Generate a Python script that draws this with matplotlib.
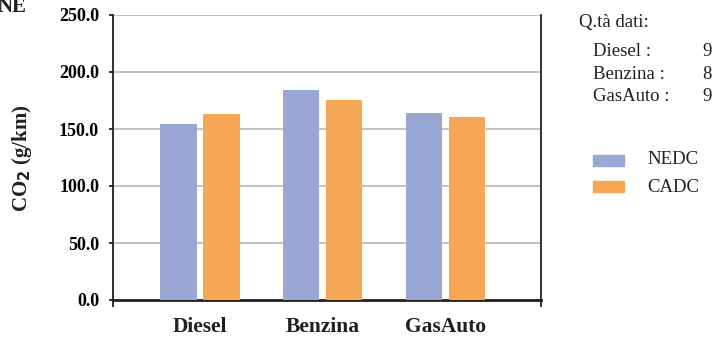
import numpy as np
import matplotlib.pyplot as plt
from matplotlib.patches import Rectangle

categories = ["Diesel", "Benzina", "GasAuto"]
nedc = [154.5, 184.5, 164.0]
cadc = [163.5, 175.0, 160.5]
counts = [9, 8, 9]
yticks = [0, 50, 100, 150, 200, 250]

blue = "#98A7D3"
orange = "#F7A754"
dark = "#231F20"

plt.rcParams["font.family"] = ["Liberation Serif", "DejaVu Serif"]

fig = plt.figure(figsize=(7.27, 3.39), dpi=100)
ax = fig.add_axes([113 / 727, 1 - 300 / 339, 428 / 727, 285 / 339])

x = np.arange(len(categories))
w = 0.295
ax.bar(x - 0.175, nedc, w, color=blue, zorder=3)
ax.bar(x + 0.175, cadc, w, color=orange, zorder=3)

# value axis
ax.set_ylim(0, 250)
ax.set_yticks(yticks)
ax.set_yticklabels(["%.1f" % v for v in yticks], fontsize=13, fontweight="bold")
ax.yaxis.grid(True, color="#B8B8B8", linewidth=1.2, zorder=0)
ax.tick_params(axis="y", direction="out", length=3, width=1.3, color=dark, pad=7)

# category axis: edge ticks as major, names as minor
xl, xr = -0.707, 2.775
ax.set_xlim(xl, xr)
ax.set_xticks([xl, xr])
ax.set_xticklabels(["", ""])
ax.tick_params(axis="x", which="major", direction="out", length=5, width=1.3, color=dark)
ax.set_xticks(x, minor=True)
ax.set_xticklabels(categories, minor=True, fontsize=15.5, fontweight="bold", color=dark)
ax.tick_params(axis="x", which="minor", length=0, pad=12)

for side in ["left", "right"]:
    ax.spines[side].set_color(dark)
    ax.spines[side].set_linewidth(1.3)
ax.spines["top"].set_visible(False)
ax.spines["bottom"].set_color(dark)
ax.spines["bottom"].set_linewidth(2)
ax.set_axisbelow(True)

fig.text(22 / 727, 1 - 158 / 339, r"CO$_\mathbf{2}$ (g/km)", rotation=90,
         ha="center", va="center", fontsize=15, fontweight="bold", color=dark)

# heading running off the corner
fig.text(27 / 727, 1 - 12 / 339, "NE", ha="right", va="baseline",
         fontsize=15, fontweight="bold", color=dark)

# data counts
fig.text(579 / 727, 1 - 22 / 339, "Q.tà dati:", ha="left", va="center",
         fontsize=13.5, color=dark)
for i, (name, n) in enumerate(zip(categories, counts)):
    yy = 1 - (52 + i * 22.5) / 339
    fig.text(593 / 727, yy, name + " :", ha="left", va="center", fontsize=13.5, color=dark)
    fig.text(712 / 727, yy, str(n), ha="right", va="center", fontsize=13.5, color=dark)

# legend
for label, col, yc in [("NEDC", blue, 160), ("CADC", orange, 187)]:
    fig.patches.append(Rectangle((593 / 727, 1 - (yc + 5.5) / 339), 31 / 727, 11 / 339,
                                 transform=fig.transFigure, color=col, figure=fig))
    fig.text(647 / 727, 1 - yc / 339, label, ha="left", va="center", fontsize=13.5, color=dark)

fig.savefig("out.png", dpi=100)
